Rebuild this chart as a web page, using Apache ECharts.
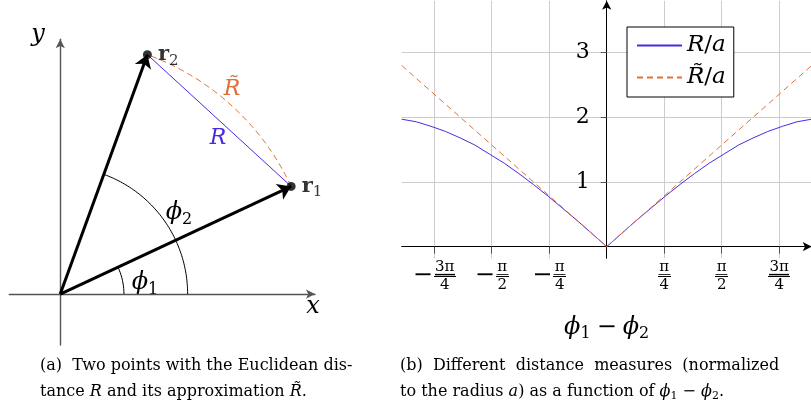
<!DOCTYPE html>
<html><head><meta charset="utf-8">
<script src="https://cdn.jsdelivr.net/npm/echarts@6.0.0/dist/echarts.min.js"></script>
<style>html,body{margin:0;padding:0;background:#fff;}#chart{width:811px;height:417px;}</style>
</head><body><div id="chart"></div>
<script>
// ---------- panel (b): distance vs phi1 - phi2 ----------
const phiDiff   = [-2.8,-2.6,-2.4,-2.2,-2.0,-1.8,-1.6,-1.4,-1.2,-1.0,-0.8,-0.6,-0.4,-0.2,0,0.2,0.4,0.6,0.8,1.0,1.2,1.4,1.6,1.8,2.0,2.2,2.4,2.6,2.8];
const euclidDist = [1.97,1.93,1.86,1.78,1.68,1.57,1.43,1.29,1.13,0.96,0.78,0.59,0.40,0.20,0,0.20,0.40,0.59,0.78,0.96,1.13,1.29,1.43,1.57,1.68,1.78,1.86,1.93,1.97];
const arcDist    = [2.8,2.6,2.4,2.2,2.0,1.8,1.6,1.4,1.2,1.0,0.8,0.6,0.4,0.2,0,0.2,0.4,0.6,0.8,1.0,1.2,1.4,1.6,1.8,2.0,2.2,2.4,2.6,2.8];
const xTickQuarterPi = [-3,-2,-1,1,2,3];
const xTickNumer = ['3π','π','π','π','π','3π'];
const xTickDenom = ['4','2','4','4','2','4'];
const yTickValues = [1,2,3];
const seriesNames = ['R/a','R\u0303/a'];
// ---------- panel (a): geometry ----------
const radiusA = 1;
const phi1Deg = 25;
const phi2Deg = 70;
const phi1ArcRadius = 0.25;
const phi2ArcRadius = 0.5;

const SERIF = '"DejaVu Serif", serif';
const BLUE = '#4a2ce0', ORANGE = '#e07038';
const Q = Math.PI / 4;
const xTickValues = xTickQuarterPi.map(k => k * Q);
const X_MIN = -2.8, X_MAX = 2.8, Y_MIN = -0.18, Y_MAX = 3.8;
const GRID_B = { left: 401.7, top: 0.8, width: 410, height: 257.5 };
const MINUS_W = 21, LABEL_MARGIN = 0.5, LINE_H = 16, BAR_LH = 2;
const fracWidth = i => (xTickNumer[i].length > 1 ? 22 : 13);

function polar(r, deg) { const t = deg * Math.PI / 180; return [r * Math.cos(t), r * Math.sin(t)]; }
function arcPoints(r, d0, d1) { const p = []; const n = 60; for (let i = 0; i <= n; i++) p.push(polar(r, d0 + (d1 - d0) * i / n)); return p; }
const r1 = polar(radiusA, phi1Deg), r2 = polar(radiusA, phi2Deg);

const numStyle = w => ({ width: w, align: 'center', fontSize: 15, lineHeight: LINE_H, fontFamily: SERIF, color: '#000' });
const gapStyle = w => ({ width: w, lineHeight: BAR_LH, fontSize: 2, color: 'rgba(0,0,0,0)' });
const tickRich = {
  sp: { width: MINUS_W, fontSize: 15, lineHeight: LINE_H, color: 'rgba(0,0,0,0)' },
  m:  { width: MINUS_W, fontSize: 24, lineHeight: BAR_LH, fontFamily: SERIF, align: 'left', color: '#000' },
  nW: numStyle(22), gW: gapStyle(22), dW: numStyle(22),
  nN: numStyle(13), gN: gapStyle(13), dN: numStyle(13)
};
function xTickFormatter(v) {
  const i = xTickValues.findIndex(t => Math.abs(t - v) < 1e-6);
  if (i < 0) return '';
  const w = xTickNumer[i].length > 1 ? 'W' : 'N';
  const neg = xTickQuarterPi[i] < 0;
  const n = '{n' + w + '|' + xTickNumer[i] + '}', g = '{g' + w + '|x}', d = '{d' + w + '|' + xTickDenom[i] + '}';
  return neg ? '{sp|x}' + n + '\n{m|−}' + g + '\n{sp|x}' + d : n + '\n' + g + '\n' + d;
}

const mathRich = {
  i: { fontFamily: SERIF, fontStyle: 'italic', fontSize: 24, color: '#000', fill: '#000' },
  s: { fontFamily: SERIF, fontSize: 16, padding: [14, 0, 0, 0], color: '#000', fill: '#000' },
  o: { fontFamily: SERIF, fontSize: 24, color: '#000', fill: '#000', padding: [0, 6, 0, 6] }
};

const chart = echarts.init(document.getElementById('chart'), null, { renderer: 'canvas' });

const capRich = {
  t: { fontFamily: SERIF, fontSize: 16, fill: '#000' },
  it: { fontFamily: SERIF, fontSize: 16, fontStyle: 'italic', fill: '#000' },
  s: { fontFamily: SERIF, fontSize: 11, padding: [8, 0, 0, 0], fill: '#000' }
};

function txt(x, y, text, rich, align) {
  return { type: 'text', x: x, y: y, silent: true,
    style: { text: text, rich: rich, align: align || 'center', verticalAlign: 'middle' } };
}

function tickPixel(v, y) {
  let p = null;
  try { p = chart.convertToPixel({ gridIndex: 1 }, [v, y]); } catch (e) { p = null; }
  if (!p || !isFinite(p[0]) || !isFinite(p[1])) {
    p = [GRID_B.left + (v - X_MIN) / (X_MAX - X_MIN) * GRID_B.width,
         GRID_B.top + (Y_MAX - y) / (Y_MAX - Y_MIN) * GRID_B.height];
  }
  return p;
}

const option = {
  animation: false,
  backgroundColor: '#fff',
  grid: [
    { left: 9.3, top: 39.3, width: 305.7, height: 305.7, containLabel: false, outerBoundsMode: 'none' },
    Object.assign({ containLabel: false, outerBoundsMode: 'none' }, GRID_B)
  ],
  xAxis: [
    { gridIndex: 0, type: 'value', min: -0.2, max: 1,
      axisLine: { onZero: true, symbol: ['none', 'arrow'], symbolSize: [7, 9], lineStyle: { color: '#555', width: 1.4 } },
      axisTick: { show: false }, axisLabel: { show: false }, splitLine: { show: false } },
    { gridIndex: 1, type: 'value', min: X_MIN, max: X_MAX,
      axisLine: { onZero: true, symbol: ['none', 'arrow'], symbolSize: [7, 9], lineStyle: { color: '#000', width: 1 } },
      axisTick: { show: true, customValues: xTickValues, length: 7, lineStyle: { color: '#555' } },
      axisLabel: { show: true, customValues: xTickValues, margin: LABEL_MARGIN, formatter: xTickFormatter, rich: tickRich },
      splitLine: { show: true, lineStyle: { color: '#cdcdcd', width: 1 } },
      name: '{i|ϕ}{s|1}{o|−}{i|ϕ}{s|2}', nameLocation: 'middle', nameGap: 54,
      nameTextStyle: { rich: mathRich } }
  ],
  yAxis: [
    { gridIndex: 0, type: 'value', min: -0.2, max: 1,
      axisLine: { onZero: true, symbol: ['none', 'arrow'], symbolSize: [7, 9], lineStyle: { color: '#555', width: 1.4 } },
      axisTick: { show: false }, axisLabel: { show: false }, splitLine: { show: false } },
    { gridIndex: 1, type: 'value', min: Y_MIN, max: Y_MAX,
      axisLine: { onZero: true, symbol: ['none', 'arrow'], symbolSize: [7, 9], lineStyle: { color: '#000', width: 1 } },
      axisTick: { show: true, customValues: yTickValues, length: 6, lineStyle: { color: '#555' } },
      axisLabel: { show: true, customValues: yTickValues, margin: -188, fontFamily: SERIF, fontSize: 22, color: '#000' },
      splitLine: { show: true, lineStyle: { color: '#cdcdcd', width: 1 } } }
  ],
  legend: {
    data: seriesNames, left: 627, top: 27, orient: 'vertical',
    backgroundColor: '#fff', borderColor: '#000', borderWidth: 1, borderRadius: 0,
    padding: [7, 8, 8, 9], itemGap: 9, itemWidth: 45, itemHeight: 14,
    itemStyle: { opacity: 0 },
    formatter: name => name === seriesNames[0] ? '{i|R}{u|/}{i|a}' : '{i|R\u0303}{u|/}{i|a}',
    textStyle: { rich: {
      i: { fontFamily: SERIF, fontStyle: 'italic', fontSize: 23, lineHeight: 26, color: '#000' },
      u: { fontFamily: SERIF, fontSize: 23, lineHeight: 26, color: '#000' } } }
  },
  series: [
    // panel (b)
    { name: seriesNames[0], type: 'line', xAxisIndex: 1, yAxisIndex: 1, symbol: 'none', z: 3,
      data: phiDiff.map((x, i) => [x, euclidDist[i]]), lineStyle: { color: BLUE, width: 1 }, itemStyle: { color: BLUE } },
    { name: seriesNames[1], type: 'line', xAxisIndex: 1, yAxisIndex: 1, symbol: 'none', z: 3,
      data: phiDiff.map((x, i) => [x, arcDist[i]]), lineStyle: { color: ORANGE, width: 1, type: [6, 4] }, itemStyle: { color: ORANGE } },
    // panel (a)
    { name: 'phi1Arc', type: 'line', xAxisIndex: 0, yAxisIndex: 0, symbol: 'none', silent: true,
      data: arcPoints(phi1ArcRadius * radiusA, 0, phi1Deg), lineStyle: { color: '#000', width: 1 } },
    { name: 'phi2Arc', type: 'line', xAxisIndex: 0, yAxisIndex: 0, symbol: 'none', silent: true,
      data: arcPoints(phi2ArcRadius * radiusA, 0, phi2Deg), lineStyle: { color: '#000', width: 1 } },
    { name: 'arcDist', type: 'line', xAxisIndex: 0, yAxisIndex: 0, symbol: 'none', silent: true,
      data: arcPoints(radiusA, phi1Deg, phi2Deg), lineStyle: { color: ORANGE, width: 1, type: [6, 4] } },
    { name: 'chord', type: 'line', xAxisIndex: 0, yAxisIndex: 0, symbol: 'none', silent: true,
      data: [r2, r1], lineStyle: { color: BLUE, width: 1 } },
    { name: 'vectors', type: 'lines', coordinateSystem: 'cartesian2d', xAxisIndex: 0, yAxisIndex: 0, silent: true,
      symbol: ['none', 'arrow'], symbolSize: 13, z: 4,
      lineStyle: { color: '#000', width: 3, opacity: 1 },
      data: [{ coords: [[0, 0], r1] }, { coords: [[0, 0], r2] }] },
    { name: 'points', type: 'scatter', xAxisIndex: 0, yAxisIndex: 0, silent: true, z: 5,
      symbolSize: 9, itemStyle: { color: '#000' },
      label: { show: true, position: 'right', distance: 6,
        formatter: p => '{b|r}{s|' + (p.dataIndex + 1) + '}',
        rich: { b: { fontFamily: SERIF, fontWeight: 'bold', fontSize: 21, color: '#000' },
                s: { fontFamily: SERIF, fontSize: 15, padding: [12, 0, 0, 0], color: '#000' } } },
      data: [r1, r2] }
  ]
};
chart.setOption(option);

const graphics = [
  txt(38, 35, '{i|y}', mathRich),
  txt(313, 307, '{i|x}', mathRich),
  txt(218, 138, '{c|R}', { c: { fontFamily: SERIF, fontStyle: 'italic', fontSize: 22, fill: BLUE } }),
  txt(232, 89, '{c|R\u0303}', { c: { fontFamily: SERIF, fontStyle: 'italic', fontSize: 22, fill: ORANGE } }),
  txt(145, 283, '{i|ϕ}{s|1}', mathRich),
  txt(179, 213, '{i|ϕ}{s|2}', mathRich),
  txt(40, 366, '{t|(a)  Two points with the Euclidean dis-}', capRich, 'left'),
  txt(40, 392, '{t|tance }{it|R}{t| and its approximation }{it|R\u0303}{t|.}', capRich, 'left'),
  txt(400, 366, '{t|(b)  Different  distance  measures  (normalized}', capRich, 'left'),
  txt(400, 392, '{t|to the radius }{it|a}{t|) as a function of }{it|ϕ}{s|1}{t| − }{it|ϕ}{s|2}{t|.}', capRich, 'left')
];
// fraction bars for the x tick labels, placed from the tick values through the axis
xTickValues.forEach((v, i) => {
  const p = tickPixel(v, Y_MIN);
  const barY = Math.round(p[1] + LABEL_MARGIN + LINE_H + BAR_LH / 2);
  const w = fracWidth(i);
  const neg = xTickQuarterPi[i] < 0;
  const total = neg ? MINUS_W + w : w;
  const x0 = Math.round(p[0] - total / 2 + (neg ? MINUS_W : 0));
  graphics.push({ type: 'text', silent: true, z: 200, x: x0 + w / 2, y: barY - 1,
    style: { text: '\u2014', font: w + 'px "DejaVu Serif"', fill: '#000', align: 'center', verticalAlign: 'middle' } });
  graphics.push({ type: 'rect', silent: true, z: 200,
    shape: { x: x0, y: barY, width: w, height: 1 }, style: { fill: '#000', stroke: null } });
});
chart.setOption({ graphic: graphics });
</script>
</body></html>
